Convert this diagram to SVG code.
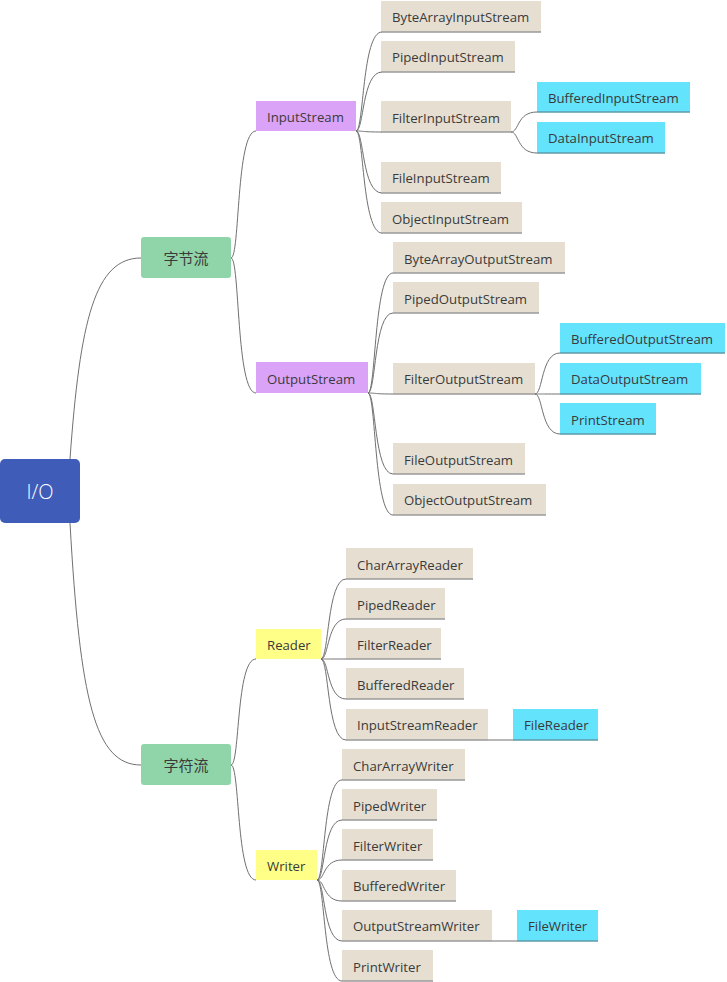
<svg xmlns="http://www.w3.org/2000/svg" width="727" height="982" viewBox="0 0 727 982">
<style>
text{font-family:"Open Sans","Noto Sans","Noto Sans CJK SC",sans-serif;font-size:13.2px;fill:#3a3a3a}
.cn{font-family:"Noto Sans CJK SC","Noto Sans",sans-serif;font-size:15px}
.rootT{font-size:20px;fill:#ffffff;font-weight:300}
.beige{fill:#e6dfd1}
.cyan{fill:#64e3fd}
.purple{fill:#dba3f8}
.yellow{fill:#ffff88}
.green{fill:#8fd5a9}
.ul{stroke:#9a9a9a;stroke-width:1.5}
.ulc{stroke:#5d9aa8;stroke-width:1.5}
.conn path{fill:none;stroke:#707070;stroke-width:1}
</style>
<rect width="727" height="982" fill="#ffffff"/>
<g class="conn" id="connectors">
<path d="M70 459 C80 320 95 258 141 258"/>
<path d="M70 523 C80 700 95 765 141 765"/>
<path d="M231 258 C240 258 236 131 256 131"/>
<path d="M231 258 C240 258 236 393 256 393"/>
<path d="M356 131 C364 131 362 32 382 32"/>
<path d="M356 131 C364 131 362 72 382 72"/>
<path d="M356 131 C364 131 362 132 382 132"/>
<path d="M356 131 C364 131 362 193 382 193"/>
<path d="M356 131 C364 131 362 233 382 233"/>
<path d="M511 132 C519 132 517 112 537 112"/>
<path d="M511 132 C519 132 517 153 537 153"/>
<path d="M368 393 C376 393 374 273 393 273"/>
<path d="M368 393 C376 393 374 313 393 313"/>
<path d="M368 393 C376 393 374 394 393 394"/>
<path d="M368 393 C376 393 374 474 393 474"/>
<path d="M368 393 C376 393 374 515 393 515"/>
<path d="M535 394 C543 394 541 353 560 353"/>
<path d="M535 394 C543 394 541 394 560 394"/>
<path d="M535 394 C543 394 541 434 560 434"/>
<path d="M231 765 C240 765 236 659 256 659"/>
<path d="M231 765 C240 765 236 880 256 880"/>
<path d="M321 659 C329 659 327 579 346 579"/>
<path d="M321 659 C329 659 327 619 346 619"/>
<path d="M321 659 C329 659 327 659 346 659"/>
<path d="M321 659 C329 659 327 699 346 699"/>
<path d="M321 659 C329 659 327 740 346 740"/>
<path d="M488 740 L513 740"/>
<path d="M317 880 C325 880 323 780 342 780"/>
<path d="M317 880 C325 880 323 820 342 820"/>
<path d="M317 880 C325 880 323 860 342 860"/>
<path d="M317 880 C325 880 323 901 342 901"/>
<path d="M317 880 C325 880 323 941 342 941"/>
<path d="M317 880 C325 880 323 981 342 981"/>
<path d="M492 941 L517 941"/>
</g>
<g id="root"><rect x="0" y="459" width="80" height="64" rx="5" fill="#3f5cb9"/><text class="rootT" x="40" y="499" text-anchor="middle">I/O</text></g>
<g id="byteStream"><rect class="green" x="141" y="237" width="90" height="41" rx="3"/><text class="cn" x="186" y="264" text-anchor="middle">字节流</text></g>
<g id="charStream"><rect class="green" x="141" y="744" width="90" height="41" rx="3"/><text class="cn" x="186" y="771" text-anchor="middle">字符流</text></g>
<g id="InputStream"><rect class="purple" x="256" y="101" width="100" height="30"/><text x="267" y="122">InputStream</text></g>
<g id="OutputStream"><rect class="purple" x="256" y="362" width="112" height="31"/><text x="267" y="384">OutputStream</text></g>
<g id="Reader"><rect class="yellow" x="256" y="629" width="65" height="30"/><text x="267" y="650">Reader</text></g>
<g id="Writer"><rect class="yellow" x="256" y="850" width="61" height="30"/><text x="267" y="871">Writer</text></g>
<g id="ByteArrayInputStream"><rect class="beige" x="381" y="1" width="160" height="31"/><line class="ul" x1="381" y1="32" x2="541" y2="32"/><text x="392" y="22">ByteArrayInputStream</text></g>
<g id="PipedInputStream"><rect class="beige" x="381" y="41" width="134" height="31"/><line class="ul" x1="381" y1="72" x2="515" y2="72"/><text x="392" y="62">PipedInputStream</text></g>
<g id="FilterInputStream"><rect class="beige" x="381" y="101" width="130" height="31"/><line class="ul" x1="381" y1="132" x2="511" y2="132"/><text x="392" y="123">FilterInputStream</text></g>
<g id="FileInputStream"><rect class="beige" x="381" y="162" width="120" height="31"/><line class="ul" x1="381" y1="193" x2="501" y2="193"/><text x="392" y="183">FileInputStream</text></g>
<g id="ObjectInputStream"><rect class="beige" x="381" y="202" width="141" height="31"/><line class="ul" x1="381" y1="233" x2="522" y2="233"/><text x="392" y="224">ObjectInputStream</text></g>
<g id="BufferedInputStream"><rect class="cyan" x="537" y="82" width="153" height="30"/><line class="ulc" x1="537" y1="112" x2="690" y2="112"/><text x="548" y="103">BufferedInputStream</text></g>
<g id="DataInputStream"><rect class="cyan" x="537" y="122" width="128" height="31"/><line class="ulc" x1="537" y1="153" x2="665" y2="153"/><text x="548" y="143">DataInputStream</text></g>
<g id="ByteArrayOutputStream"><rect class="beige" x="393" y="242" width="172" height="31"/><line class="ul" x1="393" y1="273" x2="565" y2="273"/><text x="404" y="264">ByteArrayOutputStream</text></g>
<g id="PipedOutputStream"><rect class="beige" x="393" y="282" width="146" height="31"/><line class="ul" x1="393" y1="313" x2="539" y2="313"/><text x="404" y="304">PipedOutputStream</text></g>
<g id="FilterOutputStream"><rect class="beige" x="393" y="363" width="142" height="31"/><line class="ul" x1="393" y1="394" x2="535" y2="394"/><text x="404" y="384">FilterOutputStream</text></g>
<g id="FileOutputStream"><rect class="beige" x="393" y="443" width="132" height="31"/><line class="ul" x1="393" y1="474" x2="525" y2="474"/><text x="404" y="465">FileOutputStream</text></g>
<g id="ObjectOutputStream"><rect class="beige" x="393" y="484" width="153" height="31"/><line class="ul" x1="393" y1="515" x2="546" y2="515"/><text x="404" y="505">ObjectOutputStream</text></g>
<g id="BufferedOutputStream"><rect class="cyan" x="560" y="323" width="165" height="30"/><line class="ulc" x1="560" y1="353" x2="725" y2="353"/><text x="571" y="344">BufferedOutputStream</text></g>
<g id="DataOutputStream"><rect class="cyan" x="560" y="363" width="141" height="31"/><line class="ulc" x1="560" y1="394" x2="701" y2="394"/><text x="571" y="384">DataOutputStream</text></g>
<g id="PrintStream"><rect class="cyan" x="560" y="403" width="96" height="31"/><line class="ulc" x1="560" y1="434" x2="656" y2="434"/><text x="571" y="425">PrintStream</text></g>
<g id="CharArrayReader"><rect class="beige" x="346" y="548" width="127" height="31"/><line class="ul" x1="346" y1="579" x2="473" y2="579"/><text x="357" y="570">CharArrayReader</text></g>
<g id="PipedReader"><rect class="beige" x="346" y="588" width="99" height="31"/><line class="ul" x1="346" y1="619" x2="445" y2="619"/><text x="357" y="610">PipedReader</text></g>
<g id="FilterReader"><rect class="beige" x="346" y="628" width="95" height="31"/><line class="ul" x1="346" y1="659" x2="441" y2="659"/><text x="357" y="650">FilterReader</text></g>
<g id="BufferedReader"><rect class="beige" x="346" y="668" width="118" height="31"/><line class="ul" x1="346" y1="699" x2="464" y2="699"/><text x="357" y="690">BufferedReader</text></g>
<g id="InputStreamReader"><rect class="beige" x="346" y="709" width="142" height="31"/><line class="ul" x1="346" y1="740" x2="488" y2="740"/><text x="357" y="730">InputStreamReader</text></g>
<g id="FileReader"><rect class="cyan" x="513" y="709" width="85" height="31"/><line class="ulc" x1="513" y1="740" x2="598" y2="740"/><text x="524" y="730">FileReader</text></g>
<g id="CharArrayWriter"><rect class="beige" x="342" y="749" width="123" height="31"/><line class="ul" x1="342" y1="780" x2="465" y2="780"/><text x="353" y="771">CharArrayWriter</text></g>
<g id="PipedWriter"><rect class="beige" x="342" y="789" width="95" height="31"/><line class="ul" x1="342" y1="820" x2="437" y2="820"/><text x="353" y="811">PipedWriter</text></g>
<g id="FilterWriter"><rect class="beige" x="342" y="829" width="91" height="31"/><line class="ul" x1="342" y1="860" x2="433" y2="860"/><text x="353" y="851">FilterWriter</text></g>
<g id="BufferedWriter"><rect class="beige" x="342" y="870" width="114" height="31"/><line class="ul" x1="342" y1="901" x2="456" y2="901"/><text x="353" y="891">BufferedWriter</text></g>
<g id="OutputStreamWriter"><rect class="beige" x="342" y="910" width="150" height="31"/><line class="ul" x1="342" y1="941" x2="492" y2="941"/><text x="353" y="931">OutputStreamWriter</text></g>
<g id="FileWriter"><rect class="cyan" x="517" y="910" width="81" height="31"/><line class="ulc" x1="517" y1="941" x2="598" y2="941"/><text x="528" y="931">FileWriter</text></g>
<g id="PrintWriter"><rect class="beige" x="342" y="950" width="91" height="31"/><line class="ul" x1="342" y1="981" x2="433" y2="981"/><text x="353" y="972">PrintWriter</text></g>
</svg>
